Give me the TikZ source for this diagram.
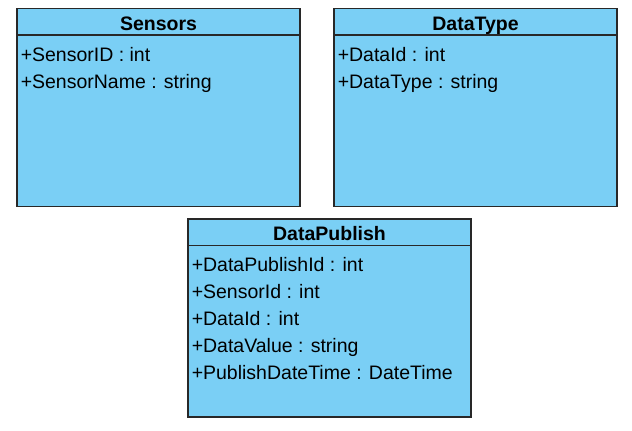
\documentclass[tikz,border=0pt]{standalone}
\usepackage{fontspec}
\setmainfont{Liberation Sans}
\usetikzlibrary{positioning}
\usetikzlibrary{calc}
\definecolor{classblue}{RGB}{122,207,245}
\definecolor{classedge}{RGB}{40,40,40}
\tikzstyle{every node}=[font=\fontsize{19.5}{23}\selectfont]
\tikzstyle{every path}=[line width=1.5pt,line join=miter]
\tikzstyle{classhead}=[draw=classedge, fill=classblue, minimum width=283pt, minimum height=26.5pt,
  inner sep=0pt, outer sep=0pt, text height=18pt, text depth=1.5pt, font=\fontsize{19.5}{23}\selectfont\bfseries]
\tikzstyle{classbody}=[draw=classedge, fill=classblue, minimum width=283pt, minimum height=171.5pt,
  inner sep=0pt, outer sep=0pt]
\tikzstyle{attr}=[anchor=base west, inner sep=0pt]

\begin{document}
\begin{tikzpicture}[x=1pt,y=-1pt]
  \useasboundingbox (0,0) rectangle (632,431);
  % Sensors
  \node[classhead, anchor=north west] (sensorshead) at (17,8.5) {Sensors};
  \node[classbody, below=0pt of sensorshead] (sensors) {};
  \foreach \attr [count=\i] in {+SensorID : int, +SensorName : string}
    \node[attr] (sensors\i) at ($(sensors.north west)+(3,27*\i-0.5)$) {\attr};
  % DataType
  \node[classhead, anchor=north west] (datatypehead) at (334,8.5) {DataType};
  \node[classbody, below=0pt of datatypehead] (datatype) {};
  \foreach \attr [count=\i] in {+DataId : int, +DataType : string}
    \node[attr] (datatype\i) at ($(datatype.north west)+(3,27*\i-0.5)$) {\attr};
  % DataPublish
  \node[classhead, anchor=north west] (datapublishhead) at (188,219) {DataPublish};
  \node[classbody, below=0pt of datapublishhead] (datapublish) {};
  \foreach \attr [count=\i] in {+DataPublishId : int, +SensorId : int, +DataId : int,
      +DataValue : string, +PublishDateTime : DateTime}
    \node[attr] (datapublish\i) at ($(datapublish.north west)+(3,27*\i-1.5)$) {\attr};
\end{tikzpicture}
\end{document}
